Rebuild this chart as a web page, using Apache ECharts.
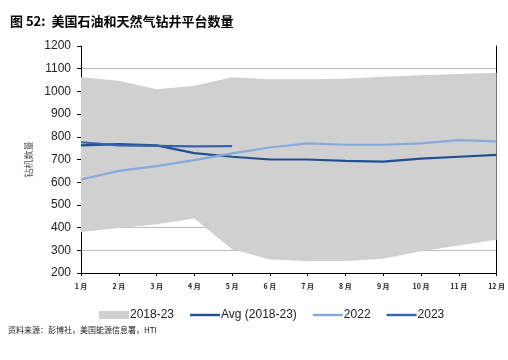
<!DOCTYPE html>
<html><head><meta charset="utf-8">
<script src="https://cdn.jsdelivr.net/npm/echarts@6/dist/echarts.min.js"></script>
<style>html,body{margin:0;padding:0;background:#fff}#c{width:508px;height:360px}</style>
</head><body><div id="c"></div>
<script>
var monthLabels = ['1 月','2 月','3 月','4 月','5 月','6 月','7 月','8 月','9 月','10 月','11 月','12 月'];
var bandLow  = [381,398,415,440,305,260,253,253,263,296,321,347];
var bandHigh = [1062,1047,1009,1025,1062,1053,1053,1056,1065,1071,1077,1082];
var avg      = [762,768,762,728,712,700,700,694,691,704,712,720];
var y2022    = [612,650,671,697,727,753,771,765,765,771,785,780];
var y2023    = [776,762,760,758,759];
var yTicks   = [200,300,400,500,600,700,800,900,1000,1100,1200];

var bandDiff = bandHigh.map(function(v,i){ return v - bandLow[i]; });
var lineIcon = 'path://M0,0H30V2.4H0Z';

var chart = echarts.init(document.getElementById('c'));
var font = 'Liberation Sans';
chart.setOption({
  animation:false,
  grid:{left:81,right:8,top:46,bottom:87},
  graphic:[
    {type:'text',left:10,top:15,style:{text:'图 52:  美国石油和天然气钻井平台数量',font:'bold 13px "Noto Sans CJK SC"',fill:'#000'}},
    {type:'text',left:8,top:326,style:{text:'资料来源：彭博社，美国能源信息署，HTI',font:'8px "Noto Sans CJK SC"',fill:'#222'}}
  ],
  legend:{
    left:94, top:304, itemWidth:30, itemHeight:8, itemGap:16, symbolKeepAspect:true,
    textStyle:{fontFamily:font,fontSize:12,color:'#222',padding:[0,0,0,-4]},
    data:[{name:'2018-23',icon:'rect'},{name:'Avg (2018-23)',icon:lineIcon},{name:'2022',icon:lineIcon},{name:'2023',icon:lineIcon}]
  },
  xAxis:{
    type:'category', data:monthLabels, boundaryGap:false,
    axisLine:{lineStyle:{color:'#000',width:1}},
    axisTick:{show:true,length:3,alignWithLabel:true,lineStyle:{color:'#000'}},
    axisLabel:{fontFamily:'"Noto Sans CJK SC"',fontSize:7,fontWeight:'bold',color:'#222',margin:10,interval:0},
    splitLine:{show:false}
  },
  yAxis:[{
    type:'value', min:200, max:1200, interval:100,
    name:'钻机数量', nameLocation:'middle', nameRotate:90, nameGap:44,
    nameTextStyle:{fontFamily:'"Noto Sans CJK SC"',fontSize:9,color:'#555'},
    axisLine:{show:true,lineStyle:{color:'#000',width:1}},
    axisTick:{show:true,length:4,lineStyle:{color:'#000'}},
    axisLabel:{fontFamily:font,fontSize:12,color:'#222',margin:10,
      formatter:function(v){ return yTicks.indexOf(v) >= 0 ? String(v) : ''; }},
    splitLine:{show:true,showMaxLine:false,lineStyle:{color:'#BDBDBD',width:1.2}}
  },{
    type:'value', min:200, max:1200, position:'right',
    axisLine:{show:true,lineStyle:{color:'#000',width:1}},
    axisTick:{show:false}, axisLabel:{show:false}, splitLine:{show:false}
  }],
  series:[
    {name:'bandBase',type:'line',stack:'band',data:bandLow,symbol:'none',
      lineStyle:{opacity:0},areaStyle:{opacity:0},silent:true,z:1},
    {name:'2018-23',type:'line',stack:'band',data:bandDiff,symbol:'none',
      color:'#D1D0D1',itemStyle:{color:'#D1D0D1'},
      lineStyle:{opacity:0},areaStyle:{color:'#D1D0D1',opacity:1},z:1},
    {name:'Avg (2018-23)',type:'line',data:avg,symbol:'none',
      color:'#1F4F8F',itemStyle:{color:'#1F4F8F'},lineStyle:{color:'#1F4F8F',width:2.2},z:3},
    {name:'2022',type:'line',data:y2022,symbol:'none',
      color:'#86A9DC',itemStyle:{color:'#86A9DC'},lineStyle:{color:'#86A9DC',width:2.2},z:3},
    {name:'2023',type:'line',data:y2023,symbol:'none',
      color:'#3A62AA',itemStyle:{color:'#3A62AA'},lineStyle:{color:'#3A62AA',width:2.2},z:4}
  ]
});
</script></body></html>
